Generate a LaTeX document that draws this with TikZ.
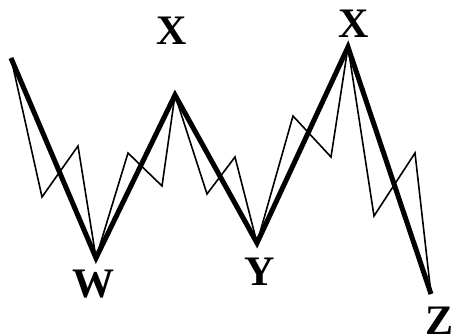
\documentclass[tikz,border=0pt]{standalone}
\usepackage{fontspec}
\setmainfont{Liberation Serif}
\begin{document}
\begin{tikzpicture}[x=1pt,y=-1pt,
  thick line/.style={line width=5pt,line join=miter,miter limit=20},
  thin line/.style={line width=1.6pt,line join=miter,miter limit=20},
  lbl/.style={font=\fontsize{42}{42}\selectfont\bfseries,inner sep=0pt,anchor=center}]
\useasboundingbox (0,0) rectangle (453,336);
\coordinate (s) at (11,58);
\coordinate (w) at (96,258);
\coordinate (x1) at (175,95);
\coordinate (y) at (257,243);
\coordinate (x2) at (348,47);
\coordinate (z) at (431,294);
\coordinate (a1) at (42,197);
\coordinate (a2) at (78,146);
\coordinate (b1) at (128,153);
\coordinate (b2) at (162,186);
\coordinate (c1) at (207,194);
\coordinate (c2) at (235,157);
\coordinate (d1) at (293,116);
\coordinate (d2) at (331,157);
\coordinate (e1) at (374,216);
\coordinate (e2) at (415,153);
\draw[thin line] (s) -- (a1) -- (a2) -- (w) -- (b1) -- (b2) -- (x1) -- (c1) -- (c2) -- (y) -- (d1) -- (d2) -- (x2) -- (e1) -- (e2) -- (z);
\draw[thick line] (s) -- (w) -- (x1) -- (y) -- (x2) -- (z);
\node[lbl] (lx1) at (172,31) {X};
\node[lbl] (lx2) at (354,24) {X};
\node[lbl] (lw) at (93,284) {W};
\node[lbl] (ly) at (260,272) {Y};
\node[lbl] (lz) at (440,321) {Z};
\end{tikzpicture}
\end{document}
